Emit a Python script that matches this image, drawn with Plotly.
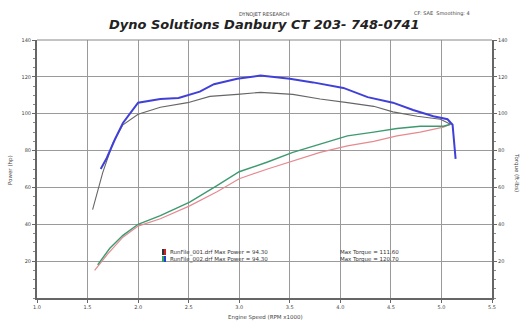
import plotly.graph_objects as go

# ---- data ----
rpm_tq_run1 = [1.55, 1.65, 1.75, 1.85, 2.0, 2.22, 2.49, 2.71, 2.98, 3.21, 3.53, 3.80, 4.07, 4.33, 4.52, 4.76, 4.99, 5.09]
tq_run1 = [48, 68, 84, 94, 99.7, 103.5, 106, 109.4, 110.5, 111.6, 110.5, 108, 106, 104, 101, 98.6, 97, 94.3]

rpm_tq_run2 = [1.63, 1.69, 1.77, 1.85, 2.0, 2.22, 2.40, 2.61, 2.75, 2.98, 3.21, 3.50, 3.73, 4.03, 4.27, 4.52, 4.72, 4.92, 5.06, 5.11, 5.14]
tq_run2 = [70, 76, 86, 95, 106, 108, 108.5, 112, 116, 119, 120.7, 119, 117, 114, 109, 106, 102, 98.6, 97, 94, 75.5]

rpm_hp_run1 = [1.57, 1.70, 1.85, 2.0, 2.22, 2.51, 2.78, 3.0, 3.28, 3.53, 3.80, 4.07, 4.33, 4.56, 4.79, 5.02, 5.09]
hp_run1 = [15, 24, 33, 39, 43, 50, 57.7, 64.7, 70, 74.4, 79, 82.5, 85, 88, 90, 92.7, 94.3]

rpm_hp_run2 = [1.60, 1.72, 1.85, 2.0, 2.22, 2.51, 2.78, 3.0, 3.28, 3.53, 3.80, 4.07, 4.33, 4.56, 4.79, 5.02, 5.09]
hp_run2 = [18, 27, 34, 40, 44.7, 52, 61, 68.5, 73.8, 79, 83.5, 88, 90, 92, 93.2, 93.2, 94.3]

x_ticks = [1.0, 1.5, 2.0, 2.5, 3.0, 3.5, 4.0, 4.5, 5.0, 5.5]
y_ticks = [20, 40, 60, 80, 100, 120, 140]

legend_names = ["RunFile_001.drf Max Power = 94.30", "RunFile_002.drf Max Power = 94.30"]
legend_torque = ["Max Torque = 111.60", "Max Torque = 120.70"]

W, H = 526, 323
L, R, T, B = 37, 34, 40, 25
PW, PH = W - L - R, H - T - B


def px(xp):
    return (xp - L) / PW


def py(yp):
    return 1 - (yp - T) / PH


fig = go.Figure()
fig.add_trace(go.Scatter(x=rpm_hp_run1, y=hp_run1, mode="lines",
                         line=dict(color="#e58a90", width=1.2), showlegend=False))
fig.add_trace(go.Scatter(x=rpm_hp_run2, y=hp_run2, mode="lines",
                         line=dict(color="#3d9a70", width=1.4), showlegend=False))
fig.add_trace(go.Scatter(x=rpm_tq_run1, y=tq_run1, mode="lines", yaxis="y2",
                         line=dict(color="#666666", width=1.1), showlegend=False))
fig.add_trace(go.Scatter(x=rpm_tq_run2, y=tq_run2, mode="lines", yaxis="y2",
                         line=dict(color="#4040d8", width=2), showlegend=False))

tickfont = dict(family="DejaVu Sans", size=5, color="#444444")
fig.update_layout(
    width=W, height=H,
    margin=dict(l=L, r=R, t=T, b=B),
    paper_bgcolor="white", plot_bgcolor="white",
    xaxis=dict(range=[1.0, 5.5], tickvals=x_ticks, ticktext=[f"{v:.1f}" for v in x_ticks],
               showgrid=True, gridcolor="#9a9a9a", gridwidth=1,
               showline=True, linecolor="#666666", linewidth=2,
               ticks="outside", ticklen=3, tickcolor="#666666", tickfont=tickfont,
               zeroline=False),
    yaxis=dict(range=[0, 140], tickvals=y_ticks, ticktext=[str(v) for v in y_ticks],
               showgrid=True, gridcolor="#9a9a9a", gridwidth=1,
               showline=True, linecolor="#666666", linewidth=2,
               ticks="outside", ticklen=3, tickcolor="#666666", tickfont=tickfont,
               minor=dict(dtick=5, ticks="outside", ticklen=2, tickcolor="#888888", showgrid=False),
               zeroline=False),
    yaxis2=dict(range=[0, 140], overlaying="y", side="right",
                tickvals=y_ticks, ticktext=[str(v) for v in y_ticks],
                showgrid=False, showline=True, linecolor="#666666", linewidth=2,
                ticks="outside", ticklen=3, tickcolor="#666666", tickfont=tickfont,
                minor=dict(dtick=5, ticks="outside", ticklen=2, tickcolor="#888888"),
                zeroline=False),
)
fig.add_shape(type="line", xref="paper", yref="paper", x0=0, x1=1, y0=1, y1=1,
              line=dict(color="#888888", width=1))

anns = [
    ("<b><i>Dyno Solutions Danbury CT 203- 748-0741</i></b>", 264, 25, 0, 13, "#222222"),
    ("DYNOJET RESEARCH", 264, 14, 0, 5, "#444444"),
    ("CF: SAE  Smoothing: 4", 442, 13, 0, 5, "#444444"),
    ("Engine Speed (RPM x1000)", 265, 317, 0, 5.5, "#444444"),
    ("Power (hp)", 10, 170, -90, 5.5, "#444444"),
    ("Torque (ft-lbs)", 517, 172, 90, 5.5, "#444444"),
]
for text, xp, yp, ang, size, col in anns:
    fig.add_annotation(text=text, x=px(xp), y=py(yp), xref="paper", yref="paper",
                       xanchor="center", yanchor="middle", textangle=ang, showarrow=False,
                       font=dict(family="DejaVu Sans", size=size, color=col))

leg_colors = [("#cc2020", "#333333"), ("#2040d0", "#30a060")]
for i, cols in enumerate(leg_colors):
    yc = 252 + i * 7
    fig.add_shape(type="rect", xref="paper", yref="paper", x0=px(162), x1=px(164),
                  y0=py(yc + 3), y1=py(yc - 3), fillcolor=cols[1], line=dict(width=0))
    fig.add_shape(type="rect", xref="paper", yref="paper", x0=px(164), x1=px(166),
                  y0=py(yc + 3), y1=py(yc - 3), fillcolor=cols[0], line=dict(width=0))
    fig.add_annotation(text=legend_names[i], x=px(168), y=py(yc), xref="paper", yref="paper",
                       xanchor="left", yanchor="middle", showarrow=False,
                       font=dict(family="DejaVu Sans", size=5.5, color="#333333"))
    fig.add_annotation(text=legend_torque[i], x=px(338), y=py(yc), xref="paper", yref="paper",
                       xanchor="left", yanchor="middle", showarrow=False,
                       font=dict(family="DejaVu Sans", size=5.5, color="#333333"))

fig.write_html("out.html", config={"displayModeBar": False},
               post_script="document.body.style.margin='0';")
